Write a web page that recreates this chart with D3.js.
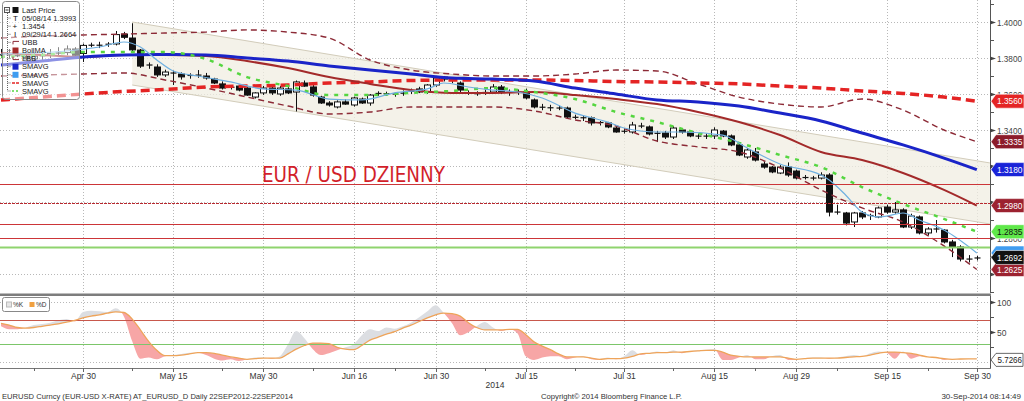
<!DOCTYPE html>
<html><head><meta charset="utf-8">
<script src="https://cdn.jsdelivr.net/npm/d3@7"></script>
<style>
body{margin:0;background:#fff;}
svg{display:block;font-family:"Liberation Sans",Arial,sans-serif;}
</style></head><body>
<svg id="c" width="1024" height="401"></svg>
<script>
// ---------- DATA ----------
const startDate = "2014-04-16", endDate = "2014-09-30";
const openP = [1.3815,1.3820,1.3815,1.3810,1.3795,1.3810,1.3815,1.3825,1.3830,1.3850,
1.3825,1.3870,1.3872,1.3875,1.3878,1.3933,1.3911,1.3844,1.3760,1.3750,
1.3706,1.3718,1.3711,1.3700,1.3706,1.3700,1.3683,1.3656,1.3636,1.3644,
1.3633,1.3583,1.3606,1.3633,1.3600,1.3628,1.3611,1.3661,1.3639,1.3583,
1.3550,1.3528,1.3556,1.3539,1.3572,1.3550,1.3600,1.3603,1.3600,1.3603,
1.3614,1.3628,1.3611,1.3650,1.3694,1.3678,1.3661,1.3611,1.3603,1.3606,
1.3611,1.3639,1.3611,1.3608,1.3611,1.3567,1.3528,1.3525,1.3522,1.3522,
1.3472,1.3469,1.3467,1.3439,1.3439,1.3411,1.3392,1.3389,1.3422,1.3417,
1.3380,1.3383,1.3361,1.3400,1.3389,1.3367,1.3365,1.3367,1.3394,1.3367,
1.3317,1.3250,1.3278,1.3211,1.3194,1.3161,1.3194,1.3172,1.3139,1.3133,
1.3133,1.3150,1.2944,1.2939,1.2889,1.2939,1.2922,1.2917,1.2972,1.2944,
1.2956,1.2861,1.2917,1.2828,1.2850,1.2844,1.2778,1.2750,1.2683,1.2686];
const highP = [1.3850,1.3850,1.3825,1.3820,1.3825,1.3835,1.3850,1.3860,1.3870,1.3860,
1.3880,1.3885,1.3890,1.3888,1.3950,1.3945,1.3993,1.3850,1.3775,1.3765,
1.3735,1.3730,1.3720,1.3715,1.3733,1.3717,1.3690,1.3670,1.3650,1.3650,
1.3640,1.3610,1.3645,1.3645,1.3645,1.3640,1.3675,1.3675,1.3650,1.3590,
1.3560,1.3565,1.3570,1.3585,1.3580,1.3600,1.3615,1.3613,1.3610,1.3620,
1.3630,1.3640,1.3655,1.3695,1.3700,1.3690,1.3670,1.3620,1.3615,1.3625,
1.3655,1.3650,1.3625,1.3625,1.3630,1.3575,1.3545,1.3540,1.3535,1.3530,
1.3485,1.3480,1.3475,1.3450,1.3445,1.3420,1.3410,1.3445,1.3440,1.3425,
1.3395,1.3395,1.3420,1.3410,1.3400,1.3380,1.3380,1.3415,1.3400,1.3375,
1.3325,1.3300,1.3300,1.3225,1.3200,1.3205,1.3220,1.3180,1.3150,1.3145,
1.3165,1.3160,1.2985,1.2945,1.2945,1.2950,1.2935,1.2975,1.2985,1.3000,
1.2965,1.2935,1.2925,1.2860,1.2900,1.2850,1.2790,1.2760,1.2705,1.2700];
const lowP = [1.3800,1.3800,1.3805,1.3785,1.3780,1.3790,1.3800,1.3810,1.3815,1.3800,
1.3778,1.3860,1.3855,1.3862,1.3870,1.3905,1.3830,1.3745,1.3740,1.3695,
1.3695,1.3650,1.3680,1.3685,1.3690,1.3680,1.3655,1.3625,1.3625,1.3615,
1.3590,1.3575,1.3595,1.3595,1.3590,1.3600,1.3503,1.3640,1.3585,1.3545,
1.3530,1.3520,1.3540,1.3530,1.3545,1.3535,1.3590,1.3590,1.3585,1.3590,
1.3600,1.3605,1.3600,1.3640,1.3670,1.3660,1.3610,1.3595,1.3590,1.3595,
1.3605,1.3600,1.3590,1.3595,1.3570,1.3520,1.3510,1.3505,1.3510,1.3465,
1.3460,1.3450,1.3425,1.3425,1.3410,1.3385,1.3380,1.3380,1.3410,1.3370,
1.3333,1.3350,1.3350,1.3380,1.3360,1.3350,1.3350,1.3350,1.3360,1.3310,
1.3255,1.3240,1.3225,1.3185,1.3160,1.3155,1.3140,1.3125,1.3125,1.3120,
1.3125,1.2920,1.2930,1.2870,1.2861,1.2905,1.2900,1.2910,1.2935,1.2935,
1.2855,1.2850,1.2820,1.2815,1.2830,1.2770,1.2694,1.2670,1.2664,1.2675];
const closeP = [1.3820,1.3815,1.3810,1.3795,1.3810,1.3815,1.3825,1.3830,1.3850,1.3815,
1.3870,1.3872,1.3870,1.3878,1.3930,1.3915,1.3845,1.3755,1.3762,1.3706,
1.3722,1.3715,1.3695,1.3706,1.3704,1.3689,1.3661,1.3633,1.3639,1.3622,
1.3594,1.3606,1.3633,1.3606,1.3633,1.3606,1.3667,1.3644,1.3594,1.3550,
1.3539,1.3556,1.3544,1.3578,1.3550,1.3594,1.3606,1.3600,1.3600,1.3606,
1.3617,1.3611,1.3650,1.3689,1.3683,1.3672,1.3622,1.3603,1.3600,1.3611,
1.3639,1.3611,1.3608,1.3611,1.3578,1.3528,1.3525,1.3522,1.3522,1.3472,
1.3469,1.3467,1.3439,1.3444,1.3417,1.3389,1.3394,1.3428,1.3422,1.3378,
1.3383,1.3361,1.3411,1.3389,1.3367,1.3365,1.3367,1.3400,1.3367,1.3317,
1.3261,1.3289,1.3233,1.3194,1.3167,1.3194,1.3150,1.3133,1.3133,1.3133,
1.3150,1.2944,1.2944,1.2883,1.2939,1.2917,1.2928,1.2967,1.2944,1.2956,
1.2861,1.2922,1.2828,1.2850,1.2850,1.2778,1.2750,1.2683,1.2683,1.2692];

// moving averages / bands sampled on these trading-day indices
const maIdx = [0,5,10,15,20,25,30,35,40,45,50,55,60,65,70,75,80,85,90,95,100,105,110,115,119];
const sma100 = [1.3761,1.3783,1.3806,1.3817,1.3819,1.3817,1.3800,1.3783,1.3756,1.3733,1.3711,1.3689,1.3683,1.3672,1.3633,1.3600,1.3567,1.3556,1.3533,1.3494,1.3450,1.3383,1.3317,1.3244,1.3180];
const bollMA = [1.3828,1.3817,1.3806,1.3817,1.3817,1.3811,1.3783,1.3744,1.3694,1.3656,1.3622,1.3606,1.3606,1.3611,1.3594,1.3572,1.3544,1.3500,1.3444,1.3372,1.3278,1.3233,1.3161,1.3067,1.2980];
const sma200 = [1.3567,1.3583,1.3600,1.3614,1.3625,1.3639,1.3644,1.3650,1.3661,1.3667,1.3675,1.3678,1.3678,1.3678,1.3675,1.3669,1.3667,1.3661,1.3656,1.3644,1.3633,1.3617,1.3603,1.3583,1.3560];
const smaGreen = [1.3806,1.3817,1.3833,1.3833,1.3833,1.3794,1.3694,1.3644,1.3594,1.3594,1.3606,1.3617,1.3633,1.3611,1.3572,1.3500,1.3444,1.3383,1.3328,1.3261,1.3194,1.3083,1.2989,1.2906,1.2835];
const upperBB = [1.3911,1.3922,1.3928,1.3933,1.3939,1.3944,1.3956,1.3944,1.3911,1.3789,1.3733,1.3711,1.3700,1.3700,1.3711,1.3733,1.3728,1.3656,1.3583,1.3544,1.3528,1.3572,1.3511,1.3400,1.3335];
const lowerBB = [1.3700,1.3706,1.3711,1.3717,1.3678,1.3633,1.3583,1.3533,1.3489,1.3500,1.3528,1.3528,1.3528,1.3506,1.3456,1.3422,1.3339,1.3306,1.3278,1.3189,1.3067,1.2967,1.2889,1.2756,1.2625];
const sma5Idx = [0,4,8,12,15,17,19,21,24,28,32,36,40,44,48,52,54,57,60,63,66,70,74,76,80,83,88,91,95,100,101,103,105,107,108,110,112,115,119];
const sma5 = [1.3822,1.3828,1.3839,1.3861,1.3889,1.3861,1.3789,1.3728,1.3700,1.3667,1.3628,1.3622,1.3572,1.3567,1.3606,1.3628,1.3661,1.3639,1.3622,1.3611,1.3578,1.3494,1.3444,1.3411,1.3389,1.3389,1.3372,1.3300,1.3211,1.3150,1.3122,1.3039,1.2944,1.2917,1.2922,1.2939,1.2900,1.2844,1.2717];

// regression channel (start / end day index)
const chanIdx = [16, 120.6];
const chanUpper = [1.4000, 1.3217];
const chanLower = [1.3650, 1.2878];

// horizontal levels
const redLevels = [1.3100, 1.2996, 1.2880, 1.2800];
const greenLevel = 1.2750;

// stochastics %K / %D, one value per trading day
const stochK = [60,55,55,58,62,64,66,70,72,68,84,86,85,84,90,76,35,6,8,5,10,12,14,16,16,12,6,3,5,2,5,8,8,6,10,30,52,40,22,12,15,20,25,30,45,55,52,58,56,60,66,75,85,95,82,65,45,50,60,67,58,52,55,48,10,4,8,10,10,5,8,10,5,4,8,5,10,20,12,15,18,16,20,15,19,20,21,22,4,4,8,12,5,5,10,12,4,4,7,8,8,6,8,10,12,10,15,18,16,6,18,6,10,9,8,4,5,5,6,5.7];
const stochD = [65,62,58,57,58,60,62,64,67,70,74,77,79,82,84,83,72,54,35,20,11,11,12,14,16,16,15,12,9,7,5,6,7,7,7,14,22,28,32,32,31,25,22,21,28,37,42,47,51,57,62,68,74,79,82,81,77,66,58,54,54,54,55,55,46,34,27,21,14,9,9,9,7,5,6,6,7,10,14,15,16,16,17,17,18,19,20,20,17,12,10,9,9,9,9,9,7,5,6,7,7,7,7,8,9,10,12,15,17,17,16,15,12,9,8,6,5,5.5,5.7,5.7266];

// axis ticks
const priceTicks = [1.26,1.28,1.30,1.32,1.34,1.36,1.38,1.40];
const priceMinor = [1.25,1.27,1.29,1.31,1.33,1.35,1.37,1.39,1.41];
const stochTicks = [0,50,100];
const tickDates = ["2014-04-30","2014-05-15","2014-05-30","2014-06-16","2014-06-30","2014-07-15","2014-07-31","2014-08-15","2014-08-29","2014-09-15","2014-09-30"];
const tickLabels = ["Apr 30","May 15","May 30","Jun 16","Jun 30","Jul 15","Jul 31","Aug 15","Aug 29","Sep 15","Sep 30"];
const minorDates = ["2014-04-22","2014-05-08","2014-05-23","2014-06-09","2014-06-23","2014-07-08","2014-07-23","2014-08-08","2014-08-22","2014-09-05","2014-09-22"];

// ---------- LAYOUT ----------
const svg = d3.select("#c");
const PR = 990;            // plot right edge
const M = {top:0, bottom:292};
const L = {top:297, bottom:368};

const parse = d3.utcParse("%Y-%m-%d");
const days = d3.utcDay.range(parse(startDate), d3.utcDay.offset(parse(endDate),1)).filter(d=>d.getUTCDay()%6!==0);
const idxOf = s => days.findIndex(d=>+d===+parse(s));

const x = d3.scaleLinear().domain([0, days.length-1]).range([1, 976.8]);
const y = d3.scaleLinear().domain([1.25, 1.41222]).range([M.bottom, M.top]);
const yS = d3.scaleLinear().domain([0,100]).range([362.3, 302.3]);

const defs = svg.append("defs");
defs.append("clipPath").attr("id","clipMain").append("rect").attr("x",0).attr("y",0).attr("width",PR).attr("height",M.bottom);
defs.append("clipPath").attr("id","clipLow").append("rect").attr("x",0).attr("y",L.top).attr("width",PR).attr("height",L.bottom-L.top);

// grid
const grid = svg.append("g").attr("stroke","#b8b8b8").attr("stroke-dasharray","1,2").attr("stroke-width",1);
tickDates.forEach(s=>{
  const xx = Math.round(x(idxOf(s)))+0.5;
  grid.append("line").attr("x1",xx).attr("x2",xx).attr("y1",0).attr("y2",M.bottom);
  grid.append("line").attr("x1",xx).attr("x2",xx).attr("y1",L.top).attr("y2",L.bottom);
});
priceTicks.forEach(p=>{
  const yy = Math.round(y(p))+0.5;
  grid.append("line").attr("x1",0).attr("x2",PR).attr("y1",yy).attr("y2",yy);
});
stochTicks.forEach(v=>{
  const yy = Math.round(yS(v))+0.5;
  grid.append("line").attr("x1",0).attr("x2",PR).attr("y1",yy).attr("y2",yy);
});

// main plot group
const gm = svg.append("g").attr("clip-path","url(#clipMain)");

// channel
const chan = chanIdx.map((d,i)=>({d, u:chanUpper[i], l:chanLower[i]}));
gm.append("path").datum(chan)
  .attr("d", d3.area().x(p=>x(p.d)).y0(p=>y(p.l)).y1(p=>y(p.u)))
  .attr("fill","#f0ede2").attr("fill-opacity",0.75);
["u","l"].forEach(k=>{
  gm.append("path").datum(chan).attr("d", d3.line().x(p=>x(p.d)).y(p=>y(p[k])))
    .attr("fill","none").attr("stroke","#d2ccba").attr("stroke-width",1);
});

// candles
const candles = openP.map((o,i)=>({i,o,h:highP[i],l:lowP[i],c:closeP[i]}));
const cg = gm.append("g");
const bw = 6;
candles.forEach(k=>{
  const cx = Math.round(x(k.i))+0.5;
  cg.append("line").attr("x1",cx).attr("x2",cx).attr("y1",y(k.h)).attr("y2",y(k.l)).attr("stroke","#111").attr("stroke-width",1);
  const top = y(Math.max(k.o,k.c)), bot = y(Math.min(k.o,k.c));
  const up = k.c >= k.o;
  if (bot-top < 1.5) {
    cg.append("line").attr("x1",cx-bw/2).attr("x2",cx+bw/2).attr("y1",(top+bot)/2).attr("y2",(top+bot)/2).attr("stroke","#111").attr("stroke-width",1.2);
  } else {
    cg.append("rect").attr("x",cx-bw/2).attr("y",top).attr("width",bw).attr("height",bot-top)
      .attr("fill", up ? "#fff" : "#111").attr("stroke","#111").attr("stroke-width",1);
  }
});

// moving averages
const mk = (idx, vals) => idx.map((d,i)=>({d, v:vals[i]}));
const lineGen = d3.line().x(p=>x(p.d)).y(p=>y(p.v)).curve(d3.curveMonotoneX);
function drawLine(data, color, width, dash){
  const p = gm.append("path").datum(data).attr("d", lineGen).attr("fill","none")
    .attr("stroke",color).attr("stroke-width",width).attr("stroke-linecap","butt");
  if (dash) p.attr("stroke-dasharray",dash);
}
drawLine(mk(maIdx, upperBB), "#8c2a36", 1.4, "6,4");
drawLine(mk(maIdx, lowerBB), "#8c2a36", 1.4, "6,4");
drawLine(mk(maIdx, sma200), "#e42424", 3.5, "9,5");
drawLine(mk(maIdx, bollMA), "#a32a2a", 2, null);
drawLine(mk(maIdx, sma100), "#1a24c8", 3, null);
drawLine(mk(maIdx, smaGreen), "#55d640", 2.5, "4,6");
drawLine(mk(sma5Idx, sma5), "#6fb0e0", 1.2, null);

// horizontal levels
redLevels.forEach((p,i)=>{
  const yy = Math.round(y(p))+0.5;
  const ln = svg.append("line").attr("x1",0).attr("x2",PR).attr("y1",yy).attr("y2",yy).attr("stroke","#cc3538").attr("stroke-width",1);
  if (i===1) ln.attr("stroke","#b8282e").attr("stroke-dasharray","3,1");
});
{
  const yy = Math.round(y(greenLevel))+0.5;
  svg.append("line").attr("x1",0).attr("x2",PR).attr("y1",yy).attr("y2",yy).attr("stroke","#8fd46e").attr("stroke-width",2);
}

// title
svg.append("text").attr("x",262).attr("y",181.5).text("EUR / USD DZIENNY")
  .attr("fill","#d21f2b").attr("font-family","'DejaVu Sans',Verdana,sans-serif").attr("font-size",20.5)
  .attr("textLength",183).attr("lengthAdjust","spacingAndGlyphs");

// price tags (values = last point of each series)
const tagSeries = [
  {v:sma200[sma200.length-1], fill:"#e42424", txt:"#fff", label:true},
  {v:upperBB[upperBB.length-1], fill:"#8c1c2a", txt:"#fff", label:true},
  {v:sma100[sma100.length-1], fill:"#1a24d8", txt:"#fff", label:true},
  {v:bollMA[bollMA.length-1], fill:"#9c2230", txt:"#fff", label:true},
  {v:smaGreen[smaGreen.length-1], fill:"#5fe84a", txt:"#111", label:true},
  {v:sma5[sma5.length-1], fill:"#3f9cf0", txt:"#fff", label:false},
  {v:lowerBB[lowerBB.length-1], fill:"#9c2230", txt:"#fff", label:true},
  {v:closeP[closeP.length-1], fill:"#111", txt:"#fff", label:true}
];

// right axis main
svg.append("line").attr("x1",PR+0.5).attr("x2",PR+0.5).attr("y1",0).attr("y2",M.bottom+1).attr("stroke","#555");
priceMinor.forEach(p=>{
  const yy = Math.round(y(p))+0.5;
  svg.append("line").attr("x1",PR).attr("x2",PR+4).attr("y1",yy).attr("y2",yy).attr("stroke","#555");
});
priceTicks.forEach(p=>{
  const yy = Math.round(y(p))+0.5;
  svg.append("path").attr("d",`M${PR},${yy-2}L${PR+6},${yy}L${PR},${yy+2}Z`).attr("fill","#444");
  const hidden = tagSeries.some(t=>Math.abs(y(t.v)-yy)<5.5);
  if (!hidden)
    svg.append("text").attr("x",PR+7).attr("y",yy+3).text(p.toFixed(4)).attr("font-size",8.5).attr("fill","#444")
      .attr("textLength",25).attr("lengthAdjust","spacingAndGlyphs");
});

tagSeries.forEach(t=>{
  const yc = y(t.v);
  svg.append("path").attr("d",`M${PR+1},${yc}L${PR+6},${yc-7}L1024,${yc-7}L1024,${yc+7}L${PR+6},${yc+7}Z`)
    .attr("fill",t.fill).attr("stroke","#fff").attr("stroke-width",0.6);
  if (t.label)
    svg.append("text").attr("x",PR+7).attr("y",yc+3.2).text(t.v.toFixed(4)).attr("font-size",9).attr("fill",t.txt)
      .attr("textLength",25.5).attr("lengthAdjust","spacingAndGlyphs");
});

// panel separator
svg.append("rect").attr("x",0).attr("y",293.5).attr("width",PR+1).attr("height",2.5).attr("fill","#7d7d7d");

// stochastic panel
const gl = svg.append("g").attr("clip-path","url(#clipLow)");
const st = stochK.map((k,i)=>({d:i,k,dd:stochD[i]}));
const cur = d3.curveMonotoneX;
defs.append("clipPath").attr("id","cAbove").append("path")
  .attr("d", d3.area().x(p=>x(p.d)).y0(L.top-5).y1(p=>yS(p.dd)).curve(cur)(st));
defs.append("clipPath").attr("id","cBelow").append("path")
  .attr("d", d3.area().x(p=>x(p.d)).y0(p=>yS(p.dd)).y1(L.bottom+5).curve(cur)(st));
const kdArea = d3.area().x(p=>x(p.d)).y0(p=>yS(p.dd)).y1(p=>yS(p.k)).curve(cur);
gl.append("g").attr("clip-path","url(#cAbove)").append("path").datum(st).attr("d",kdArea).attr("fill","#dcdee2");
gl.append("g").attr("clip-path","url(#cBelow)").append("path").datum(st).attr("d",kdArea).attr("fill","#f7a6a6");
gl.append("line").attr("x1",0).attr("x2",PR).attr("y1",Math.round(yS(70))+0.5).attr("y2",Math.round(yS(70))+0.5).attr("stroke","#c8584c");
gl.append("line").attr("x1",0).attr("x2",PR).attr("y1",Math.round(yS(30))+0.5).attr("y2",Math.round(yS(30))+0.5).attr("stroke","#7cc66a");
gl.append("path").datum(st).attr("d", d3.line().x(p=>x(p.d)).y(p=>yS(p.dd)).curve(cur))
  .attr("fill","none").attr("stroke","#eea45a").attr("stroke-width",1.3);

// stoch right axis
svg.append("line").attr("x1",PR+0.5).attr("x2",PR+0.5).attr("y1",296).attr("y2",L.bottom).attr("stroke","#555");
[25,75].forEach(v=>{
  const yy=Math.round(yS(v))+0.5;
  svg.append("line").attr("x1",PR).attr("x2",PR+4).attr("y1",yy).attr("y2",yy).attr("stroke","#555");
});
[100,50].forEach(v=>{
  const yy=Math.round(yS(v))+0.5;
  svg.append("path").attr("d",`M${PR},${yy-2}L${PR+6},${yy}L${PR},${yy+2}Z`).attr("fill","#444");
  svg.append("text").attr("x",PR+7).attr("y",yy+3).text(v).attr("font-size",8.5).attr("fill","#444");
});
{
  const v = stochD[stochD.length-1], yc = yS(v)+1;
  svg.append("path").attr("d",`M${PR+1},${yc}L${PR+6},${yc-6.5}L1023,${yc-6.5}L1023,${yc+6.5}L${PR+6},${yc+6.5}Z`)
    .attr("fill","#fff").attr("stroke","#444").attr("stroke-width",0.8);
  svg.append("text").attr("x",PR+7.5).attr("y",yc+3).text(v.toFixed(4)).attr("font-size",8.5).attr("fill","#222")
    .attr("textLength",24.5).attr("lengthAdjust","spacingAndGlyphs");
}

// bottom axis
svg.append("line").attr("x1",0).attr("x2",PR+1).attr("y1",L.bottom+0.5).attr("y2",L.bottom+0.5).attr("stroke","#777").attr("stroke-width",1.2);
tickDates.forEach((s,i)=>{
  const xx = Math.round(x(idxOf(s)))+0.5;
  svg.append("line").attr("x1",xx).attr("x2",xx).attr("y1",L.bottom).attr("y2",L.bottom+4).attr("stroke","#666");
  svg.append("text").attr("x",xx).attr("y",379).attr("text-anchor","middle").text(tickLabels[i]).attr("font-size",8.5).attr("fill","#333");
});
minorDates.forEach(s=>{
  const xx = Math.round(x(idxOf(s)))+0.5;
  svg.append("line").attr("x1",xx).attr("x2",xx).attr("y1",L.bottom).attr("y2",L.bottom+3).attr("stroke","#666");
});
svg.append("text").attr("x",495).attr("y",388).attr("text-anchor","middle").text("2014").attr("font-size",8.5).attr("fill","#333");

// footer
svg.append("text").attr("x",2).attr("y",398.5).text("EURUSD Curncy (EUR-USD X-RATE) AT_EURUSD_D  Daily 22SEP2012-22SEP2014")
  .attr("font-size",8).attr("fill","#333").attr("textLength",291).attr("lengthAdjust","spacingAndGlyphs");
svg.append("text").attr("x",541).attr("y",398.5).text("Copyright\u00A9 2014 Bloomberg Finance L.P.")
  .attr("font-size",8).attr("fill","#333").attr("textLength",141).attr("lengthAdjust","spacingAndGlyphs");
svg.append("text").attr("x",1021).attr("y",398.5).attr("text-anchor","end").text("30-Sep-2014 08:14:49")
  .attr("font-size",8).attr("fill","#333");

// main legend
const lg = svg.append("g");
lg.append("rect").attr("x",2.5).attr("y",1.5).attr("width",77).attr("height",98).attr("rx",3)
  .attr("fill","#fff").attr("fill-opacity",0.5).attr("stroke","#8a8a8a");
lg.append("rect").attr("x",4.5).attr("y",7.5).attr("width",5).attr("height",5).attr("fill","#fff").attr("stroke","#555");
lg.append("line").attr("x1",5.5).attr("x2",8.5).attr("y1",10).attr("y2",10).attr("stroke","#333");
lg.append("line").attr("x1",7.5).attr("x2",7.5).attr("y1",13).attr("y2",91).attr("stroke","#666").attr("stroke-dasharray","1,1");
const legItems = ["Last Price","05/08/14 1.3993","1.3454","09/29/14 1.2664","UBB","BollMA","LBB","SMAVG","SMAVG","SMAVG","SMAVG"];
legItems.forEach((t,i)=>{
  const yc = 10 + i*8.1;
  if (i>0) lg.append("line").attr("x1",7.5).attr("x2",11).attr("y1",yc).attr("y2",yc).attr("stroke","#666").attr("stroke-dasharray","1,1");
  lg.append("text").attr("x",22).attr("y",yc+2.7).text(t).attr("font-size",7.5).attr("fill","#222");
});
const sy = i => 10 + i*8.1;
lg.append("rect").attr("x",12.5).attr("y",sy(0)-3).attr("width",6).attr("height",6).attr("fill","#111");
lg.append("text").attr("x",13).attr("y",sy(1)+3).text("T").attr("font-size",8).attr("fill","#111");
lg.append("text").attr("x",12.5).attr("y",sy(2)+3).text("+").attr("font-size",8).attr("fill","#111");
lg.append("text").attr("x",14).attr("y",sy(3)+3).text("I").attr("font-size",8).attr("fill","#111");
lg.append("path").attr("d",`M13,${sy(4)+2}V${sy(4)-1}H19`).attr("fill","none").attr("stroke","#8c2a36");
lg.append("rect").attr("x",12.5).attr("y",sy(5)-3).attr("width",6).attr("height",6).attr("fill","#a32a2a");
lg.append("path").attr("d",`M13,${sy(6)-2}V${sy(6)+1}H19`).attr("fill","none").attr("stroke","#8c2a36");
lg.append("rect").attr("x",12.5).attr("y",sy(7)-3).attr("width",6).attr("height",6).attr("fill","#1a24c8");
lg.append("rect").attr("x",12.5).attr("y",sy(8)-3).attr("width",6).attr("height",6).attr("fill","#3f9cf0");
lg.append("path").attr("d",`M12,${sy(9)}H19`).attr("stroke","#e42424").attr("stroke-width",1.5).attr("stroke-dasharray","3,1");
lg.append("path").attr("d",`M12,${sy(10)}H19`).attr("stroke","#55d640").attr("stroke-width",1.5).attr("stroke-dasharray","2,2");

// stoch legend
const sl = svg.append("g");
sl.append("rect").attr("x",2.5).attr("y",297.5).attr("width",47).attr("height",14).attr("rx",2).attr("fill","#fff").attr("stroke","#888");
sl.append("rect").attr("x",6.5).attr("y",302).attr("width",5).attr("height",5).attr("fill","#e6e6e6").attr("stroke","#bbb");
sl.append("text").attr("x",13).attr("y",307.3).text("%K").attr("font-size",6.5).attr("fill","#333");
sl.append("rect").attr("x",29.5).attr("y",302).attr("width",5).attr("height",5).attr("fill","#f0a040");
sl.append("text").attr("x",36).attr("y",307.3).text("%D").attr("font-size",6.5).attr("fill","#333");
</script>
</body></html>
